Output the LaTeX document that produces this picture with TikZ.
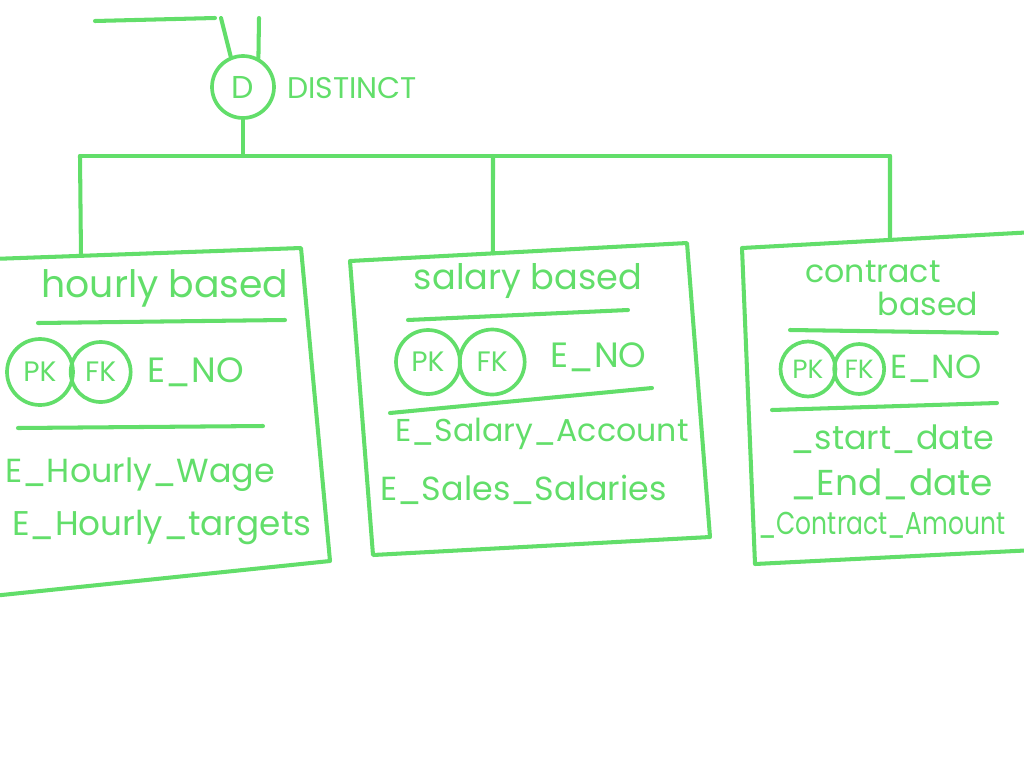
\documentclass[tikz,border=0pt]{standalone}
\usepackage{fontspec}
\setmainfont{Poppins}
\usetikzlibrary{positioning,calc}
\definecolor{marker}{RGB}{98,222,106}
\tikzset{pen/.style={draw=marker, line width=2.3pt, line cap=round, line join=round},
  key/.style={draw=marker, line width=2.1pt, circle, inner sep=0pt, minimum size=1.2cm, text=marker, font=\fontsize{16}{16}\selectfont},
  lbl/.style={text=marker, inner sep=0pt, anchor=west, font=\fontsize{18}{18}\selectfont},
  ttl/.style={text=marker, inner sep=0pt, font=\fontsize{20}{20}\selectfont}}

\begin{document}
\begin{tikzpicture}[x=0.02cm, y=-0.02cm]
\useasboundingbox (0,0) rectangle (1024,768);
% superclass end
\coordinate (T0) at (95,21);
\coordinate (T1) at (215,18);
\coordinate (Ua) at (221,18);
\coordinate (Ub) at (259,18);
\node[key, minimum size=1.24cm, font=\fontsize{18}{18}\selectfont] (D) at (243,87) {D};
\node[lbl, font=\fontsize{17}{17}\selectfont] (distinct) at (287,88) {DISTINCT};
\draw[pen] (T0) -- (T1);
\draw[pen] (Ua) -- (D.112);
\draw[pen] (Ub) -- (D.62);
\coordinate (bar) at (243,156);
\coordinate (bL) at (80,156);
\coordinate (bM) at (493,156);
\coordinate (bR) at (890,156);
\draw[pen] (D) -- (bar);
\draw[pen] (bL) -- (bR);

% hourly based
\coordinate (hA) at (-8,259);
\coordinate (hB) at (301,248);
\coordinate (hC) at (330,561);
\coordinate (hD) at (-8,596);
\draw[pen] (hA) -- (hB) -- (hC) -- (hD) -- cycle;
\coordinate (hTop) at ($(hA)!0.288!(hB)$);
\draw[pen] (bL) -- (hTop);
\node[ttl, font=\fontsize{21.5}{21.5}\selectfont] (hName) at (165,288) {hourly based};
\draw[pen] (38,323) -- (285,320);
\node[key, minimum size=1.32cm] (hPK) at (40,372) {PK};
\node[key] (hFK) [right=-0.12cm of hPK] {FK};
\node[lbl, font=\fontsize{20}{20}\selectfont] (hNo) [right=0.3cm of hFK] {E\_NO};
\draw[pen] (18,428) -- (263,426);
\node[lbl, font=\fontsize{19}{19}\selectfont] (hWage) at (5,475) {E\_Hourly\_Wage};
\node[lbl, font=\fontsize{19.5}{19.5}\selectfont] (hTarget) at (12,527) {E\_Hourly\_targets};

% salary based
\coordinate (sA) at (350,261);
\coordinate (sB) at (687,243);
\coordinate (sC) at (710,537);
\coordinate (sD) at (373,555);
\draw[pen] (sA) -- (sB) -- (sC) -- (sD) -- cycle;
\coordinate (sTop) at ($(sA)!0.424!(sB)$);
\draw[pen] (bM) -- (sTop);
\node[ttl] (sName) at (528,281) {salary based};
\draw[pen] (408,320) -- (628,310);
\node[key, minimum size=1.28cm] (sPK) at (428,362) {PK};
\node[key, minimum size=1.3cm] (sFK) [right=-0.08cm of sPK] {FK};
\node[lbl, font=\fontsize{20}{20}\selectfont] (sNo) at (550,357) {E\_NO};
\draw[pen] (390,413) -- (652,388);
\node[lbl] (sAcc) at (395,434) {E\_Salary\_Account};
\node[lbl, font=\fontsize{19}{19}\selectfont] (sSal) at (380,490) {E\_Sales\_Salaries};

% contract based
\coordinate (cA) at (742,248);
\coordinate (cB) at (1035,232);
\coordinate (cC) at (1035,550);
\coordinate (cD) at (755,564);
\draw[pen] (cA) -- (cB) -- (cC) -- (cD) -- cycle;
\coordinate (cTop) at ($(cA)!0.505!(cB)$);
\draw[pen] (bR) -- (cTop);
\node[ttl, font=\fontsize{18}{18}\selectfont] (cName) at (873,272) {contract};
\node[ttl, font=\fontsize{18}{18}\selectfont] (cName2) at (928,304) {based};
\draw[pen] (790,330) -- (997,333);
\node[key, minimum size=1.1cm, font=\fontsize{15}{15}\selectfont] (cPK) at (808,369) {PK};
\node[key, minimum size=1.0cm, font=\fontsize{15}{15}\selectfont] (cFK) [right=-0.1cm of cPK] {FK};
\node[lbl, font=\fontsize{19}{19}\selectfont] (cNo) [right=0.08cm of cFK] {E\_NO};
\draw[pen] (772,410) -- (997,403);
\node[lbl, font=\fontsize{19}{19}\selectfont] (cStart) at (790,439) {\_start\_date};
\node[lbl, font=\fontsize{20.5}{20.5}\selectfont] (cEnd) at (790,484) {\_End\_date};
\node[lbl, font=\fontsize{18}{18}\selectfont] (cAmt) at (758,525) {\scalebox{0.79}[1]{\_Contract\_Amount}};
\end{tikzpicture}
\end{document}
